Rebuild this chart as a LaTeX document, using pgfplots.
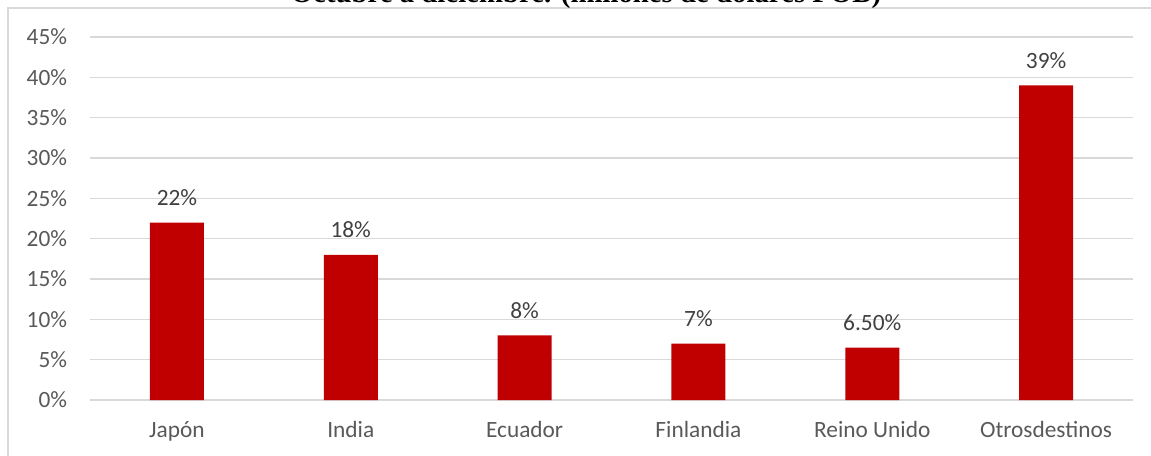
\documentclass[border=0pt]{standalone}
\usepackage{pgfplots}
\pgfplotsset{compat=1.18}
\usepackage{fontspec}
\setmainfont{Carlito}
\newfontfamily\titlefont{Liberation Serif}
\definecolor{barred}{HTML}{C00000}
\definecolor{gridgray}{HTML}{D9D9D9}
\definecolor{ticktext}{HTML}{595959}
\definecolor{labeltext}{HTML}{404040}
\begin{document}
\begin{tikzpicture}[x=1pt,y=1pt]
\path[use as bounding box, clip] (-67.5,-42) rectangle (795.75,300);
\begin{axis}[
  at={(0,0)}, anchor=south west,
  scale only axis, width=782.25pt, height=272.25pt,
  xmin=-0.5, xmax=5.5, ymin=0, ymax=45,
  ytick={0,5,...,45},
  xtick={0,1,2,3,4,5},
  xticklabels={Japón,India,Ecuador,Finlandia,Reino Unido,Otrosdestinos},
  axis line style={draw=none},
  major tick length=0pt,
  ymajorgrids, grid style={gridgray, line width=0.9pt},
  /pgf/number format/assume math mode=true,
  yticklabel={\pgfmathprintnumber{\tick}\%},
  tick label style={font=\fontsize{17.5}{21}\selectfont, text=ticktext},
  yticklabel style={anchor=east, inner sep=0pt, xshift=-17pt},
  xticklabel style={anchor=base, inner sep=0pt, yshift=-27.75pt},
  ybar, bar width=40.5pt,
  nodes near coords,
  point meta=explicit symbolic,
  every node near coord/.append style={font=\fontsize{17.5}{21}\selectfont, text=labeltext, anchor=base, inner sep=0pt, yshift=12.75pt},
  clip=false,
]
\addplot[fill=barred, draw=none] table[meta=lbl, row sep=\\] {
x y lbl\\
0 22 22\%\\
1 18 18\%\\
2 8 8\%\\
3 7 7\%\\
4 6.5 6.50\%\\
5 39 39\%\\
};
\end{axis}
\draw[gridgray, line width=1pt] (-61.5,-50) -- (-61.5,294) -- (800,294);
\node[anchor=base, inner sep=0pt, font=\titlefont\bfseries\fontsize{21.6}{26}\selectfont] at (372,298.2) {Octubre a diciembre. (millones de dólares FOB)};
\end{tikzpicture}
\end{document}
